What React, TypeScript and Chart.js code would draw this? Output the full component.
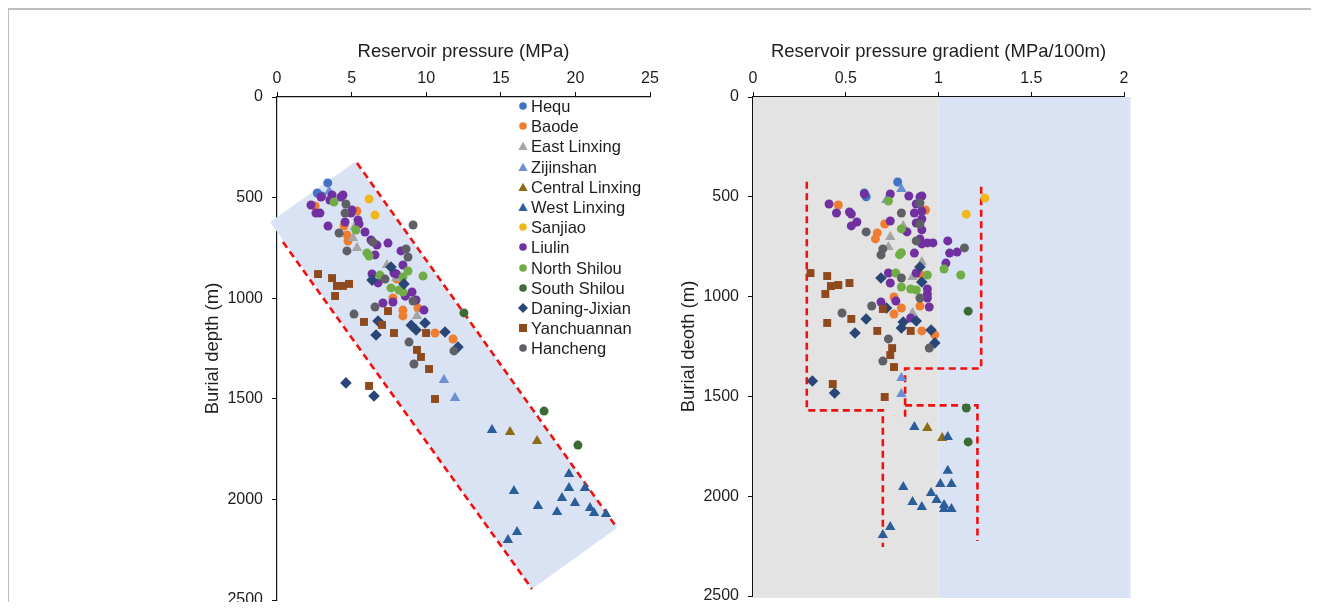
import React, { useEffect, useRef } from 'react';
import { Chart, registerables } from 'chart.js';

Chart.register(...registerables);

const FONT = "'Liberation Sans', Arial, sans-serif";
const TEXT = '#1e1e1e';

// ---- tick labels ----
const pressureTicks = [0, 5, 10, 15, 20, 25];
const gradientTicks = [0, 0.5, 1, 1.5, 2];
const depthTicks = [0, 500, 1000, 1500, 2000, 2500];

// ---- series ----
const seriesNames = ['Hequ', 'Baode', 'East Linxing', 'Zijinshan', 'Central Linxing', 'West Linxing', 'Sanjiao', 'Liulin', 'North Shilou', 'South Shilou', 'Daning-Jixian', 'Yanchuannan', 'Hancheng'];
const seriesColors = ['#4472C4', '#ED7D31', '#A5A5A5', '#6A8FD2', '#8C6D14', '#2B5E99', '#F0B81C', '#7030A0', '#70AD47', '#3D6B35', '#2A4677', '#8E4A1C', '#5E6066'];
const seriesShapes = ['circle', 'circle', 'triangle', 'triangle', 'triangle', 'triangle', 'circle', 'circle', 'circle', 'circle', 'rectRot', 'rect', 'circle'];

// pressure (MPa), depth (m)
const hequP = [[3.4, 427], [2.7, 477], [3.0, 492]];
const baodeP = [[2.55, 542], [5.36, 567], [4.69, 686], [4.76, 716], [8.04, 905], [7.77, 999], [8.44, 1059], [8.44, 1088], [9.45, 1049], [10.59, 1173], [11.8, 1203], [4.5, 640]];
const eastLinxingP = [[5.09, 701], [5.36, 750], [7.37, 835], [8.0, 900], [9.38, 1088], [5.2, 646]];
const zijinshanP = [[3.5, 470], [3.6, 515], [11.19, 1407], [11.93, 1496]];
const centralLinxingP = [[15.62, 1665], [17.43, 1710]];
const westLinxingP = [[14.41, 1655], [19.57, 1874], [19.57, 1943], [20.64, 1943], [19.1, 1993], [19.97, 2018], [15.88, 1958], [17.49, 2033], [18.77, 2063], [20.98, 2043], [21.25, 2068], [22.05, 2072], [16.09, 2162], [15.48, 2202]];
const sanjiaoP = [[6.17, 507], [6.57, 587]];
const liulinP = [[2.28, 537], [2.95, 497], [2.88, 577], [3.42, 641], [2.61, 577], [3.69, 487], [4.29, 497], [4.42, 487], [4.56, 621], [4.96, 577], [5.43, 611], [5.5, 631], [5.9, 671], [6.3, 711], [6.7, 736], [7.44, 726], [6.57, 785], [8.31, 765], [8.44, 835], [6.37, 880], [6.77, 924], [7.84, 875], [9.05, 969], [9.32, 1009], [7.1, 1024], [7.77, 1019], [9.85, 1059], [5.03, 562], [3.55, 512], [8.0, 880], [8.6, 990]];
const northShilouP = [[3.82, 522], [5.29, 661], [6.03, 775], [6.17, 790], [6.9, 885], [8.44, 895], [8.78, 865], [9.79, 890], [7.64, 949], [8.18, 959], [8.44, 969]];
const southShilouP = [[12.53, 1073], [17.9, 1561], [20.17, 1730]];
const daningJixianP = [[7.64, 845], [6.37, 910], [8.51, 929], [6.77, 1113], [9.92, 1123], [9.32, 1158], [6.64, 1183], [11.26, 1168], [12.13, 1243], [4.62, 1421], [6.5, 1486], [9.0, 1135]];
const yanchuannanP = [[2.75, 880], [3.69, 900], [4.02, 939], [4.42, 939], [4.83, 929], [3.89, 989], [7.44, 1064], [5.83, 1118], [7.04, 1133], [7.84, 1173], [9.99, 1173], [9.38, 1257], [9.65, 1292], [10.19, 1352], [6.17, 1436], [10.59, 1501]];
const hanchengP = [[4.62, 532], [4.56, 577], [4.16, 676], [4.69, 765], [9.12, 636], [8.65, 755], [8.78, 795], [6.43, 721], [7.24, 905], [9.12, 1014], [6.57, 1044], [5.16, 1079], [8.85, 1218], [11.86, 1262], [9.18, 1327]];

// gradient (MPa/100m), depth (m)
const hequG = [[0.78, 426], [0.6, 481], [0.61, 500]];
const baodeG = [[0.46, 541], [0.93, 566], [0.71, 636], [0.67, 681], [0.66, 711], [0.9, 887], [0.76, 1002], [0.8, 1057], [0.76, 1087], [0.9, 1047], [0.91, 1172], [0.98, 1192]];
const eastLinxingG = [[0.74, 701], [0.73, 751], [0.81, 646], [0.91, 827], [0.86, 902], [0.86, 1082]];
const zijinshanG = [[0.8, 461], [0.72, 516], [0.8, 1408], [0.8, 1488]];
const centralLinxingG = [[0.94, 1658], [1.02, 1708]];
const westLinxingG = [[0.87, 1653], [1.05, 1703], [1.05, 1873], [1.01, 1939], [1.07, 1939], [0.81, 1954], [0.96, 1984], [0.99, 2019], [0.86, 2029], [0.91, 2054], [1.03, 2044], [1.03, 2064], [1.07, 2064], [0.74, 2154], [0.7, 2194]];
const sanjiaoG = [[1.25, 506], [1.15, 587]];
const liulinG = [[0.41, 536], [0.45, 581], [0.52, 576], [0.53, 586], [0.56, 626], [0.53, 646], [0.6, 486], [0.74, 486], [0.84, 496], [0.9, 501], [0.91, 496], [0.88, 536], [0.91, 571], [0.87, 581], [0.91, 611], [0.74, 621], [0.88, 631], [0.83, 676], [0.91, 666], [0.9, 711], [0.91, 736], [0.94, 731], [0.97, 731], [1.05, 721], [1.06, 782], [1.1, 777], [1.04, 832], [0.87, 782], [0.73, 882], [0.74, 932], [0.88, 882], [0.94, 962], [0.94, 987], [0.94, 1007], [0.95, 1052], [0.69, 1027], [0.77, 1022], [0.85, 1107]];
const northShilouG = [[0.73, 521], [0.8, 661], [0.8, 780], [0.79, 790], [0.77, 882], [0.94, 892], [1.03, 862], [1.12, 892], [0.8, 952], [0.85, 962], [0.88, 967]];
const southShilouG = [[1.16, 1073], [1.15, 1558], [1.16, 1728]];
const daningJixianG = [[0.9, 852], [0.69, 907], [0.91, 927], [0.72, 1057], [0.61, 1112], [0.55, 1182], [0.81, 1127], [0.88, 1122], [0.8, 1157], [0.96, 1167], [0.98, 1232], [0.32, 1423], [0.44, 1483]];
const yanchuannanG = [[0.31, 882], [0.4, 897], [0.42, 947], [0.46, 942], [0.52, 932], [0.39, 987], [0.7, 1062], [0.4, 1132], [0.53, 1112], [0.67, 1172], [0.85, 1172], [0.75, 1258], [0.74, 1293], [0.76, 1353], [0.43, 1438], [0.71, 1503]];
const hanchengG = [[0.9, 531], [0.8, 581], [0.9, 636], [0.61, 676], [0.7, 761], [0.69, 791], [0.88, 721], [1.14, 756], [0.8, 907], [0.9, 1007], [0.64, 1047], [0.48, 1082], [0.73, 1212], [0.95, 1258], [0.7, 1323]];

const pressureSeries = [hequP, baodeP, eastLinxingP, zijinshanP, centralLinxingP, westLinxingP, sanjiaoP, liulinP, northShilouP, southShilouP, daningJixianP, yanchuannanP, hanchengP];
const gradientSeries = [hequG, baodeG, eastLinxingG, zijinshanG, centralLinxingG, westLinxingG, sanjiaoG, liulinG, northShilouG, southShilouG, daningJixianG, yanchuannanG, hanchengG];

// ---- zones & boundaries ----
const bandPolygon = [[5.23, 323], [22.79, 2142], [17.09, 2445], [-0.47, 621]];
const bandUpper = [[5.36, 328], [22.79, 2142]];
const bandLower = [[0.4, 721], [17.09, 2445]];
const normalZone = [[0, 0], [1, 0], [1, 2510], [0, 2510]];
const overZone = [[1, 0], [2.035, 0], [2.035, 2510], [1, 2510]];
const boundLeft = [[0.29, 425], [0.29, 1570], [0.7, 1570], [0.7, 2255]];
const boundRight = [[1.23, 450], [1.23, 1360], [0.82, 1360], [0.82, 1605]];
const boundLower = [[0.82, 1545], [1.21, 1545], [1.21, 2225]];

const toXY = (a: number[][]) => a.map(([x, y]) => ({ x, y }));

const zonesPlugin = {
  id: 'zones',
  beforeDatasetsDraw(chart: any, _args: any, opts: any) {
    const { ctx, scales } = chart;
    const xs = scales.x;
    const ys = scales.y;
    (opts.polygons || []).forEach((p: any) => {
      ctx.save();
      ctx.beginPath();
      p.points.forEach(([vx, vy]: number[], i: number) => {
        const px = xs.getPixelForValue(vx);
        const py = ys.getPixelForValue(vy);
        if (i === 0) ctx.moveTo(px, py);
        else ctx.lineTo(px, py);
      });
      ctx.closePath();
      ctx.fillStyle = p.color;
      ctx.fill();
      ctx.restore();
    });
  },
};

const pointSize = (shape: string) => (shape === 'triangle' ? 6 : shape === 'rect' ? 5.6 : shape === 'rectRot' ? 5.8 : 4.5);

function pointDatasets(series: number[][][]) {
  return series.map((arr, i) => ({
    label: seriesNames[i],
    data: toXY(arr),
    showLine: false,
    pointStyle: seriesShapes[i],
    pointRadius: pointSize(seriesShapes[i]),
    pointBackgroundColor: seriesColors[i],
    pointBorderWidth: 0,
    backgroundColor: seriesColors[i],
    borderColor: seriesColors[i],
    order: 30 - i,
  }));
}

function dashDataset(arr: number[][]) {
  return {
    data: toXY(arr),
    showLine: true,
    fill: false,
    borderColor: '#F01010',
    borderWidth: 2.6,
    borderDash: [7, 4.5],
    pointRadius: 0,
    order: 50,
    clip: false,
  };
}

function makeOptions(cfg: any) {
  return {
    responsive: false,
    animation: false,
    events: [],
    layout: { padding: cfg.padding },
    plugins: { legend: { display: false }, tooltip: { enabled: false }, zones: { polygons: cfg.polygons } },
    scales: {
      x: {
        type: 'linear',
        position: 'top',
        min: cfg.xTicks[0],
        max: cfg.xTicks[cfg.xTicks.length - 1],
        afterBuildTicks: (s: any) => { s.ticks = cfg.xTicks.map((v: number) => ({ value: v })); },
        afterFit: (s: any) => { s.height = 89; s.paddingLeft = 0; s.paddingRight = 0; },
        ticks: { font: { family: FONT, size: 16 }, color: TEXT, padding: 4, maxRotation: 0, callback: (v: any) => String(v) },
        grid: { drawOnChartArea: false, drawTicks: true, tickLength: 5, tickColor: '#111', color: '#111' },
        border: { display: true, color: '#111', width: 1.2 },
        title: { display: true, text: cfg.xTitle, font: { family: FONT, size: 18.5 }, color: TEXT, padding: { top: 33, bottom: 0 } },
      },
      y: {
        type: 'linear',
        reverse: true,
        min: 0,
        max: 2500,
        afterBuildTicks: (s: any) => { s.ticks = depthTicks.map((v) => ({ value: v })); },
        afterFit: (s: any) => { s.width = cfg.yWidth; s.paddingTop = 0; s.paddingBottom = 0; },
        ticks: { font: { family: FONT, size: 16 }, color: TEXT, padding: 9, callback: (v: any) => String(v) },
        grid: { drawOnChartArea: false, drawTicks: true, tickLength: 5, tickColor: '#111', color: '#111' },
        border: { display: true, color: '#111', width: 1.2 },
        title: { display: true, text: cfg.yTitle, font: { family: FONT, size: 18.5 }, color: TEXT, padding: { top: cfg.yTitlePad, bottom: 0 } },
      },
    },
  };
}

function Marker({ shape, color }: { shape: string; color: string }) {
  let el: any;
  if (shape === 'circle') el = <circle cx={6} cy={6} r={3.8} fill={color} />;
  else if (shape === 'triangle') el = <polygon points="6,1.8 10.6,10 1.4,10" fill={color} />;
  else if (shape === 'rectRot') el = <polygon points="6,1 11,6 6,11 1,6" fill={color} />;
  else el = <rect x={2} y={2} width={8} height={8} fill={color} />;
  return (
    <svg width={12} height={12} style={{ position: 'absolute', left: 0, top: 4 }}>
      {el}
    </svg>
  );
}

export default function App() {
  const leftRef = useRef<HTMLCanvasElement>(null);
  const rightRef = useRef<HTMLCanvasElement>(null);

  useEffect(() => {
    const left = new Chart(leftRef.current as HTMLCanvasElement, {
      type: 'line',
      data: {
        datasets: [dashDataset(bandUpper), dashDataset(bandLower), ...pointDatasets(pressureSeries)] as any,
      },
      options: makeOptions({
        padding: { left: 0, top: 0, right: 70, bottom: 10 },
        xTicks: pressureTicks,
        xTitle: 'Reservoir pressure (MPa)',
        yTitle: 'Burial depth (m)',
        yWidth: 97,
        yTitlePad: 22,
        polygons: [{ points: bandPolygon, color: '#DAE3F3' }],
      }) as any,
      plugins: [zonesPlugin],
    });
    const right = new Chart(rightRef.current as HTMLCanvasElement, {
      type: 'line',
      data: {
        datasets: [dashDataset(boundLeft), dashDataset(boundRight), dashDataset(boundLower), ...pointDatasets(gradientSeries)] as any,
      },
      options: makeOptions({
        padding: { left: 0, top: 0, right: 195, bottom: 14 },
        xTicks: gradientTicks,
        xTitle: 'Reservoir pressure gradient (MPa/100m)',
        yTitle: 'Burial deoth (m)',
        yWidth: 93,
        yTitlePad: 18,
        polygons: [
          { points: normalZone, color: '#E3E3E3' },
          { points: overZone, color: '#DAE3F3' },
        ],
      }) as any,
      plugins: [zonesPlugin],
    });
    return () => {
      left.destroy();
      right.destroy();
    };
  }, []);

  return (
    <div style={{ position: 'relative', width: 1303, height: 594, fontFamily: FONT }}>
      <div style={{ position: 'absolute', left: -1, top: 0, width: 1312, height: 594, borderTop: '2px solid #bdbdbd', borderLeft: '2px solid #bdbdbd', boxSizing: 'border-box' }} />
      <canvas ref={leftRef} width={540} height={602} style={{ position: 'absolute', left: 172, top: 0, display: 'block' }} />
      <canvas ref={rightRef} width={659} height={602} style={{ position: 'absolute', left: 652, top: 0, display: 'block' }} />
      <div style={{ position: 'absolute', left: 509, top: 88 }}>
        {seriesNames.map((n, i) => (
          <div key={n} style={{ position: 'absolute', left: 0, top: i * 20.2, height: 20, width: 150, whiteSpace: 'nowrap' }}>
            <Marker shape={seriesShapes[i]} color={seriesColors[i]} />
            <span style={{ position: 'absolute', left: 14, top: 0, fontSize: 16.5, lineHeight: '20px', color: TEXT }}>{n}</span>
          </div>
        ))}
      </div>
    </div>
  );
}
